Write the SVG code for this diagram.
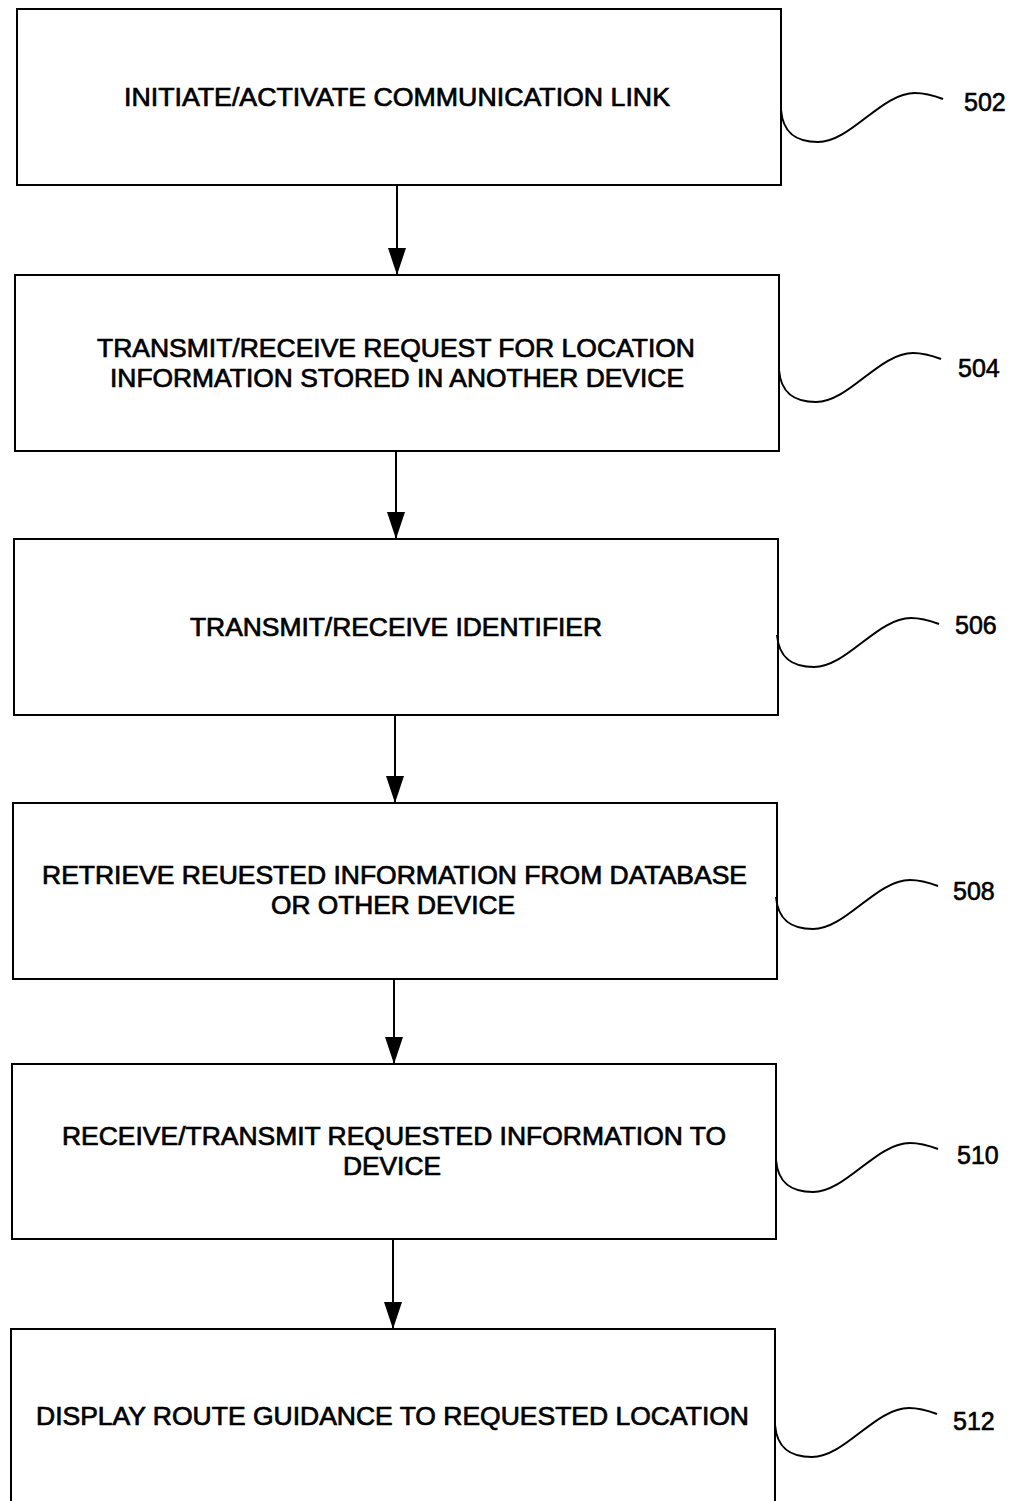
<svg xmlns="http://www.w3.org/2000/svg" width="1013" height="1501" viewBox="0 0 1013 1501">
<style>
.box{fill:#fff;stroke:#000;stroke-width:2}
.t{font-family:"Liberation Sans",Arial,sans-serif;font-size:25px;fill:#000;stroke:#000;stroke-width:0.7;text-anchor:middle}
.lbl{font-family:"Liberation Sans",Arial,sans-serif;font-size:25px;fill:#000;stroke:#000;stroke-width:0.6}
.conn{stroke:#000;stroke-width:2;fill:none}
.lead{stroke:#000;stroke-width:2;fill:none}
</style>
<defs>
<marker id="ah" viewBox="0 0 27 18" refX="27" refY="9" markerWidth="27" markerHeight="18" markerUnits="userSpaceOnUse" orient="auto">
<path d="M0,0 L27,9 L0,18 z" fill="#000"/>
</marker>
<path id="sq" d="M0,0 C2,24 16,32 37,32 C70,32 100,-17 134,-17 C145,-17 154,-14 162,-11"/>
</defs>
<rect width="1013" height="1501" fill="#fff"/>
<g id="n502">
<rect class="box" x="17" y="9" width="764" height="176"/>
<text class="t" x="397" y="106" textLength="546" lengthAdjust="spacingAndGlyphs">INITIATE/ACTIVATE COMMUNICATION LINK</text>
<use href="#sq" class="lead" transform="translate(781,110)"/>
<text class="lbl" x="964" y="111">502</text>
</g>
<g id="n504">
<rect class="box" x="15" y="275" width="764" height="176"/>
<text class="t" x="396" y="357" textLength="598" lengthAdjust="spacingAndGlyphs">TRANSMIT/RECEIVE REQUEST FOR LOCATION</text>
<text class="t" x="397" y="387" textLength="574" lengthAdjust="spacingAndGlyphs">INFORMATION STORED IN ANOTHER DEVICE</text>
<use href="#sq" class="lead" transform="translate(779,370)"/>
<text class="lbl" x="958" y="377">504</text>
</g>
<g id="n506">
<rect class="box" x="14" y="539" width="764" height="176"/>
<text class="t" x="396" y="636" textLength="412" lengthAdjust="spacingAndGlyphs">TRANSMIT/RECEIVE IDENTIFIER</text>
<use href="#sq" class="lead" transform="translate(777,635)"/>
<text class="lbl" x="955" y="634">506</text>
</g>
<g id="n508">
<rect class="box" x="13" y="803" width="764" height="176"/>
<text class="t" x="394.5" y="884" textLength="705" lengthAdjust="spacingAndGlyphs">RETRIEVE REUESTED INFORMATION FROM DATABASE</text>
<text class="t" x="393" y="914" textLength="244" lengthAdjust="spacingAndGlyphs">OR OTHER DEVICE</text>
<use href="#sq" class="lead" transform="translate(776,897)"/>
<text class="lbl" x="953" y="900">508</text>
</g>
<g id="n510">
<rect class="box" x="12" y="1064" width="764" height="175"/>
<text class="t" x="394" y="1145" textLength="664" lengthAdjust="spacingAndGlyphs">RECEIVE/TRANSMIT REQUESTED INFORMATION TO</text>
<text class="t" x="392" y="1175" textLength="98" lengthAdjust="spacingAndGlyphs">DEVICE</text>
<use href="#sq" class="lead" transform="translate(776,1160)"/>
<text class="lbl" x="957" y="1164">510</text>
</g>
<g id="n512">
<rect class="box" x="11" y="1329" width="764" height="190"/>
<text class="t" x="392.5" y="1425" textLength="713" lengthAdjust="spacingAndGlyphs">DISPLAY ROUTE GUIDANCE TO REQUESTED LOCATION</text>
<use href="#sq" class="lead" transform="translate(775,1425)"/>
<text class="lbl" x="953" y="1430">512</text>
</g>
<g id="connectors">
<line class="conn" x1="397" y1="185" x2="397" y2="275" marker-end="url(#ah)"/>
<line class="conn" x1="396" y1="451" x2="396" y2="539" marker-end="url(#ah)"/>
<line class="conn" x1="395" y1="715" x2="395" y2="803" marker-end="url(#ah)"/>
<line class="conn" x1="394" y1="979" x2="394" y2="1064" marker-end="url(#ah)"/>
<line class="conn" x1="393" y1="1239" x2="393" y2="1329" marker-end="url(#ah)"/>
</g>
</svg>
